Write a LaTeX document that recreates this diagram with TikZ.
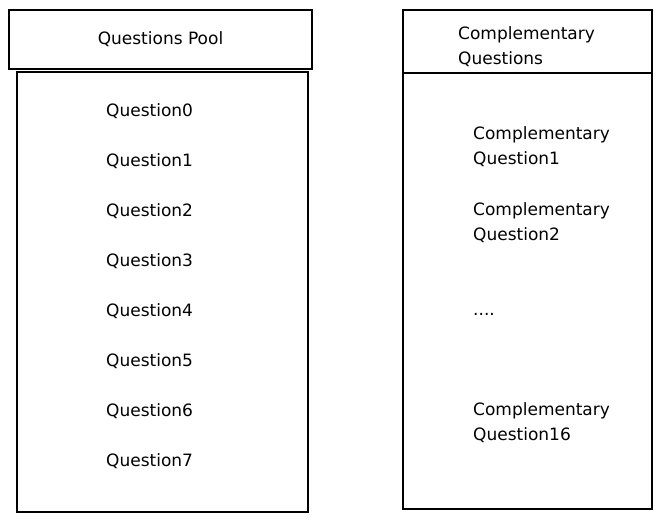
\documentclass[tikz,border=0pt]{standalone}
\usepackage{fontspec}
\setmainfont{DejaVu Sans}
\begin{document}
\begin{tikzpicture}[x=1pt,y=-1pt,
  box/.style={draw, line width=1.1pt, inner sep=0pt},
  lbl/.style={font=\fontsize{17}{25}\selectfont, anchor=north west, inner sep=0pt, align=left}]
\useasboundingbox (0,0) rectangle (664,522);
% left column
\node[box, minimum width=303pt, minimum height=59pt] (lhead) at (160.5,39.5) {};
\node[box, minimum width=291pt, minimum height=440pt] (lbody) at (162.5,292) {};
\node[font=\fontsize{17}{25}\selectfont, inner sep=0pt] (ltitle) at (lhead.center) {Questions Pool};
\foreach \i in {0,...,7}{
  \node[lbl] (q\i) at (106,{110+50*\i-6.7}) {Question\i};
}
% right column
\node[box, minimum width=249pt, minimum height=63pt] (rhead) at (527.5,41.5) {};
\node[box, minimum width=249pt, minimum height=436pt] (rbody) at (527.5,291) {};
\node[lbl] (rtitle) at (458,26.3) {Complementary\\Questions};
\node[lbl] (c1) at (473,126.3) {Complementary\\Question1};
\node[lbl] (c2) at (473,202.3) {Complementary\\Question2};
\node[font=\fontsize{17}{25}\selectfont, anchor=base west, inner sep=0pt] (dots) at (473,315) {....};
\node[lbl] (c16) at (473,402.3) {Complementary\\Question16};
\end{tikzpicture}
\end{document}
